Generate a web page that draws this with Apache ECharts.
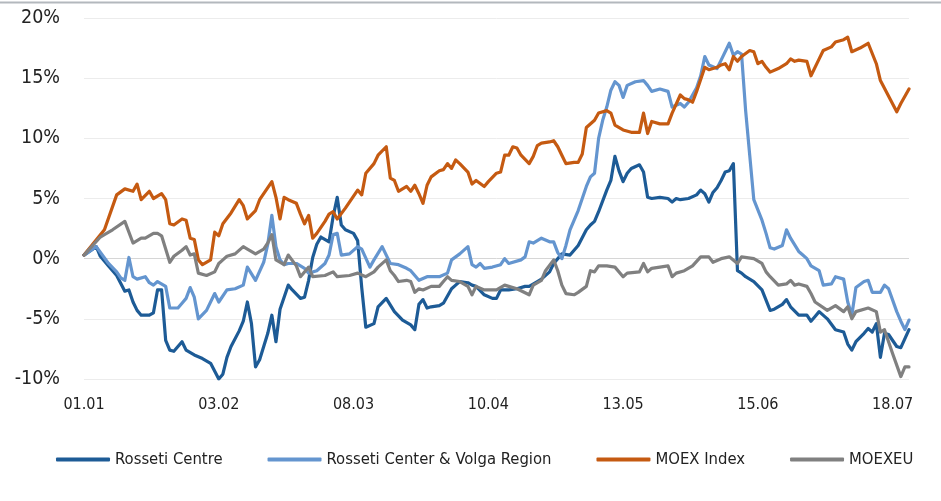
<!DOCTYPE html>
<html>
<head>
<meta charset="utf-8">
<script src="https://cdn.jsdelivr.net/npm/echarts@6/dist/echarts.min.js"></script>
<style>
    html, body { margin: 0; padding: 0; background: #fff; }
    #chart { width: 941px; height: 501px; }
</style>
</head>
<body>
<div id="chart"></div>
<script>
// each point: [days since 01.01.2018, change in %]
var rossetiCentre = [
    [0, 0.3], [3, 1.0], [4, 0.2], [6, -0.6], [8, -1.4], [10, -2.7], [11, -2.6], [12, -3.6], [13, -4.3], [14, -4.7],
    [16, -4.7], [17, -4.5], [18, -2.6], [19, -2.6], [20, -6.8], [21, -7.6], [22, -7.7], [24, -6.9], [25, -7.6], [27, -8.0],
    [29, -8.3], [31, -8.7], [33, -10.0], [34, -9.6], [35, -8.2], [36, -7.3], [38, -6.0], [39, -5.2], [40, -3.6], [41, -5.4],
    [42, -9.0], [43, -8.4], [45, -6.2], [46, -4.7], [47, -6.9], [48, -4.2], [50, -2.2], [51, -2.6], [53, -3.3], [54, -3.2],
    [55, -1.8], [56, 0.1], [57, 1.2], [58, 1.8], [60, 1.4], [61, 3.5], [62, 5.1], [63, 2.8], [64, 2.4], [66, 2.1],
    [67, 1.5], [68, -2.4], [69, -5.7], [71, -5.4], [72, -4.0], [74, -3.3], [76, -4.4], [78, -5.1], [80, -5.5], [81, -5.9],
    [82, -3.8], [83, -3.4], [84, -4.1], [85, -4.0], [87, -3.9], [88, -3.7], [90, -2.5], [91, -2.2], [92, -1.9], [94, -2.0],
    [95, -2.2], [96, -2.3], [98, -3.0], [100, -3.3], [101, -3.3], [102, -2.6], [104, -2.6], [106, -2.5], [108, -2.3], [109, -2.3],
    [111, -1.9], [112, -1.7], [114, -1.1], [115, -0.4], [117, 0.4], [119, 0.3], [121, 1.1], [123, 2.4], [124, 2.8], [125, 3.1],
    [126, 3.9], [128, 5.7], [129, 6.5], [130, 8.5], [131, 7.3], [132, 6.4], [133, 7.1], [134, 7.5], [136, 7.8], [137, 7.2],
    [138, 5.1], [139, 5.0], [141, 5.1], [143, 5.0], [144, 4.7], [145, 5.0], [146, 4.9], [148, 5.0], [150, 5.3], [151, 5.7],
    [152, 5.4], [153, 4.7], [154, 5.5], [155, 5.9], [156, 6.5], [157, 7.2], [158, 7.3], [159, 7.9], [160, -1.0], [161, -1.2],
    [162, -1.5], [164, -1.9], [166, -2.6], [168, -4.3], [169, -4.2], [171, -3.8], [172, -3.4], [173, -4.0], [175, -4.7], [177, -4.7],
    [178, -5.2], [179, -4.8], [180, -4.4], [182, -5.0], [184, -5.9], [186, -6.1], [187, -7.1], [188, -7.6], [189, -6.9], [191, -6.2],
    [192, -5.8], [193, -6.1], [194, -5.4], [195, -8.2], [196, -6.2], [197, -6.3], [199, -7.3], [200, -7.4], [202, -5.9]
];

var rossetiVolga = [
    [0, 0.3], [3, 1.0], [6, -0.4], [8, -1.1], [9, -1.6], [10, -1.8], [11, 0.1], [12, -1.5], [13, -1.7], [15, -1.5],
    [16, -2.0], [17, -2.2], [18, -1.9], [20, -2.3], [21, -4.1], [23, -4.1], [24, -3.7], [25, -3.3], [26, -2.4], [27, -3.2],
    [28, -5.0], [30, -4.3], [32, -2.9], [33, -3.6], [35, -2.6], [37, -2.5], [39, -2.2], [40, -0.7], [42, -1.8], [44, -0.3],
    [45, 1.2], [46, 3.6], [47, 1.0], [48, -0.1], [49, -0.5], [50, -0.4], [52, -0.4], [54, -0.8], [55, -1.2], [57, -1.0],
    [59, -0.4], [60, 0.3], [61, 2.0], [62, 2.1], [63, 0.3], [65, 0.4], [67, 1.0], [68, 0.8], [70, -0.7], [71, -0.1],
    [73, 1.0], [75, -0.4], [77, -0.5], [79, -0.8], [80, -1.0], [82, -1.8], [84, -1.5], [87, -1.5], [89, -1.2], [90, -0.1],
    [92, 0.4], [94, 1.0], [95, -0.5], [96, -0.7], [97, -0.4], [98, -0.8], [100, -0.7], [102, -0.5], [103, 0.0], [104, -0.4],
    [107, -0.1], [108, 0.15], [109, 1.4], [110, 1.3], [112, 1.7], [114, 1.4], [115, 1.4], [116, 0.5], [117, 0.0], [118, 1.1],
    [119, 2.4], [121, 4.0], [123, 6.0], [124, 6.8], [125, 7.1], [126, 10.0], [127, 11.5], [128, 12.6], [129, 14.0], [130, 14.7],
    [131, 14.4], [132, 13.4], [133, 14.4], [135, 14.7], [137, 14.8], [138, 14.4], [139, 13.9], [141, 14.1], [143, 13.9], [144, 12.6],
    [146, 12.9], [147, 12.6], [148, 13.0], [150, 14.2], [151, 15.2], [152, 16.8], [153, 16.1], [155, 15.8], [156, 16.5], [158, 17.9],
    [159, 16.9], [160, 17.2], [161, 17.0], [162, 12.3], [163, 8.6], [164, 4.9], [166, 3.2], [167, 2.1], [168, 0.9], [169, 0.8],
    [171, 1.1], [172, 2.4], [173, 1.7], [175, 0.6], [176, 0.3], [177, 0.0], [178, -0.6], [180, -1.0], [181, -2.2], [183, -2.1],
    [184, -1.5], [186, -1.7], [187, -3.6], [188, -4.7], [189, -2.4], [191, -1.9], [192, -1.8], [193, -2.8], [195, -2.8], [196, -2.2],
    [197, -2.5], [199, -4.4], [200, -5.2], [201, -5.9], [202, -5.1]
];

var moexIndex = [
    [0, 0.3], [5, 2.4], [8, 5.3], [10, 5.8], [12, 5.6], [13, 6.2], [14, 4.9], [16, 5.6], [17, 5.0], [19, 5.4],
    [20, 4.9], [21, 2.9], [22, 2.8], [24, 3.3], [25, 3.2], [26, 1.7], [27, 1.6], [28, -0.1], [29, -0.5], [31, -0.1],
    [32, 2.2], [33, 1.9], [34, 2.9], [36, 3.8], [38, 4.9], [39, 4.4], [40, 3.3], [42, 4.0], [43, 4.9], [46, 6.4],
    [47, 5.1], [48, 3.3], [49, 5.1], [50, 4.9], [52, 4.6], [53, 3.7], [54, 2.9], [55, 3.6], [56, 1.7], [57, 2.1],
    [59, 3.1], [60, 3.7], [61, 3.9], [62, 3.3], [64, 4.2], [67, 5.7], [68, 5.3], [69, 7.1], [71, 7.9], [72, 8.6],
    [74, 9.3], [75, 6.7], [76, 6.5], [77, 5.6], [79, 6.0], [80, 5.6], [81, 6.1], [82, 5.4], [83, 4.6], [84, 6.1],
    [85, 6.8], [87, 7.3], [88, 7.4], [89, 7.9], [90, 7.5], [91, 8.2], [92, 7.9], [94, 7.2], [95, 6.2], [96, 6.5],
    [98, 6.0], [99, 6.4], [101, 7.1], [102, 7.2], [103, 8.6], [104, 8.6], [105, 9.3], [106, 9.2], [107, 8.6], [109, 7.9],
    [110, 8.5], [111, 9.4], [112, 9.6], [114, 9.7], [115, 9.8], [116, 9.3], [117, 8.6], [118, 7.9], [120, 8.0], [121, 8.0],
    [122, 8.7], [123, 10.9], [125, 11.5], [126, 12.1], [128, 12.3], [129, 12.1], [130, 11.1], [132, 10.7], [134, 10.5], [136, 10.5],
    [137, 12.1], [138, 10.4], [139, 11.4], [141, 11.2], [143, 11.2], [144, 12.1], [146, 13.6], [147, 13.3], [148, 13.2], [149, 13.0],
    [150, 13.9], [152, 15.9], [153, 15.7], [155, 15.9], [156, 16.1], [157, 16.2], [158, 15.7], [159, 16.8], [160, 16.4], [161, 16.8],
    [163, 17.3], [164, 17.2], [165, 16.2], [166, 16.4], [167, 15.9], [168, 15.5], [170, 15.8], [172, 16.2], [173, 16.6], [174, 16.4],
    [175, 16.5], [177, 16.4], [178, 15.2], [180, 16.6], [181, 17.3], [183, 17.6], [184, 18.0], [186, 18.2], [187, 18.4], [188, 17.2],
    [190, 17.5], [192, 17.9], [194, 16.2], [195, 14.8], [199, 12.2], [200, 12.9], [202, 14.1]
];

var moexeu = [
    [0, 0.3], [4, 1.8], [5, 2.0], [7, 2.4], [10, 3.1], [12, 1.3], [14, 1.7], [15, 1.7], [17, 2.1], [18, 2.1],
    [19, 1.9], [21, -0.3], [22, 0.2], [24, 0.7], [25, 1.0], [26, 0.3], [27, 0.4], [28, -1.2], [30, -1.4], [32, -1.1],
    [33, -0.4], [34, -0.1], [35, 0.2], [37, 0.4], [39, 1.0], [40, 0.8], [42, 0.4], [44, 0.8], [45, 1.3], [46, 2.0],
    [47, -0.1], [49, -0.5], [50, 0.3], [52, -0.6], [53, -1.5], [55, -0.7], [56, -1.5], [59, -1.4], [61, -1.1], [62, -1.5],
    [65, -1.4], [67, -1.2], [69, -1.5], [71, -1.1], [72, -0.7], [74, -0.1], [75, -1.0], [76, -1.4], [77, -1.9], [79, -1.8],
    [80, -1.9], [81, -2.8], [82, -2.5], [83, -2.6], [85, -2.3], [87, -2.3], [88, -1.9], [89, -1.5], [90, -1.8], [92, -1.9],
    [94, -2.3], [95, -3.0], [96, -2.3], [98, -2.6], [101, -2.6], [103, -2.2], [104, -2.3], [106, -2.5], [109, -3.0], [110, -2.2],
    [112, -1.8], [113, -1.0], [115, -0.1], [116, -1.0], [117, -2.2], [118, -2.9], [120, -3.0], [121, -2.8], [123, -2.3], [124, -1.0],
    [125, -1.1], [126, -0.6], [128, -0.6], [130, -0.7], [132, -1.5], [133, -1.2], [136, -1.1], [137, -0.4], [138, -1.1], [139, -0.8],
    [143, -0.6], [144, -1.5], [145, -1.2], [147, -1.0], [149, -0.6], [151, 0.15], [153, 0.15], [154, -0.3], [156, 0.0], [158, 0.15],
    [160, -0.4], [161, 0.15], [164, 0.0], [166, -0.4], [167, -1.1], [168, -1.5], [170, -2.2], [172, -2.1], [173, -1.8], [174, -2.2],
    [175, -2.1], [177, -2.3], [178, -2.9], [179, -3.6], [182, -4.3], [184, -3.9], [186, -4.4], [187, -4.0], [188, -5.0], [189, -4.4],
    [192, -4.1], [194, -4.4], [195, -6.1], [196, -5.9], [198, -7.9], [200, -9.8], [201, -9.0], [202, -9.0]
];

var seriesNames = ["Rosseti Centre", "Rosseti Center & Volga Region", "MOEX Index", "MOEXEU"];
var seriesColors = ["#1d5b96", "#6495cf", "#c55a11", "#808080"];
var seriesData = [rossetiCentre, rossetiVolga, moexIndex, moexeu];

var FONT = "'DejaVu Sans Condensed', 'DejaVu Sans', sans-serif";

function dayLabel(d) {
    var dt = new Date(2018, 0, 1 + Math.round(d));
    var dd = ("0" + dt.getDate()).slice(-2);
    var mm = ("0" + (dt.getMonth() + 1)).slice(-2);
    return dd + "." + mm;
}

var chart = echarts.init(document.getElementById("chart"));

var option = {
    animation: false,
    backgroundColor: "#fff",
    textStyle: { fontFamily: FONT },
    graphic: [
        {
            type: "line",
            shape: { x1: 0, y1: 2.5, x2: 941, y2: 2.5 },
            style: { stroke: "#b3b8bd", lineWidth: 2 },
            silent: true
        }
    ],
    grid: {
        left: 84,
        right: 32,
        top: 18,
        bottom: 122,
        containLabel: false,
        outerBoundsMode: "none"
    },
    legend: {
        data: seriesNames,
        left: 56,
        top: 451,
        padding: 0,
        icon: "roundRect",
        itemWidth: 54,
        itemHeight: 4,
        itemGap: 45,
        textStyle: { fontFamily: FONT, fontSize: 16.5, color: "#222" }
    },
    xAxis: {
        type: "value",
        min: 0,
        max: 202,
        interval: 33,
        axisLine: { show: false },
        axisTick: { show: false },
        splitLine: { show: false },
        axisLabel: {
            formatter: dayLabel,
            fontFamily: FONT,
            fontSize: 16,
            color: "#222",
            margin: 18,
            showMaxLabel: false
        }
    },
    yAxis: {
        type: "value",
        min: -10,
        max: 20,
        interval: 5,
        axisLine: { show: false },
        axisTick: { show: false },
        splitLine: {
            lineStyle: {
                color: ["#ececec", "#ececec", "#d6d6d6", "#ececec", "#ececec", "#ececec", "#ececec"],
                width: 1
            }
        },
        axisLabel: {
            formatter: "{value}%",
            fontFamily: FONT,
            fontSize: 19.5,
            color: "#222",
            margin: 24
        }
    },
    series: seriesNames.map(function (name, i) {
        return {
            name: name,
            type: "line",
            data: seriesData[i],
            symbol: "none",
            showSymbol: false,
            color: seriesColors[i],
            lineStyle: { width: 3.2, color: seriesColors[i], join: "round", cap: "round" }
        };
    })
};

chart.setOption(option);
</script>
</body>
</html>
